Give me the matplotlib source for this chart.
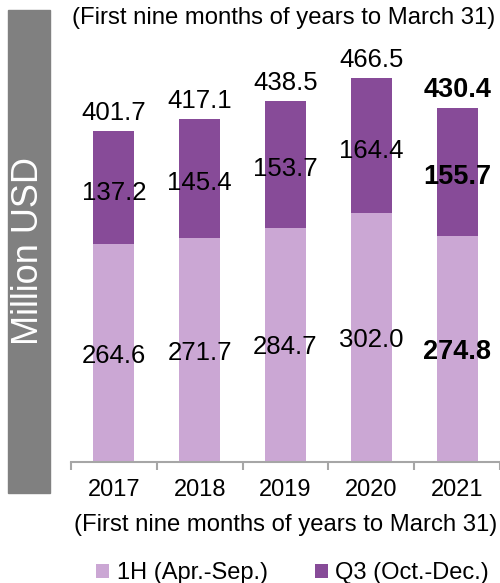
import numpy as np
import matplotlib
matplotlib.use('Agg')
import matplotlib.pyplot as plt
from matplotlib.patches import Rectangle

plt.rcParams['font.family'] = ['Liberation Sans', 'DejaVu Sans']

# =============================================
# Data (million USD)
# =============================================

years = ['2017', '2018', '2019', '2020', '2021']
first_half = [264.6, 271.7, 284.7, 302.0, 274.8]
third_q = [137.2, 145.4, 153.7, 164.4, 155.7]
totals = [401.7, 417.1, 438.5, 466.5, 430.4]

light = '#CBA7D4'
dark = '#874B98'

# =============================================
# Figure
# =============================================

fig = plt.figure(figsize=(5.0, 5.83), dpi=100)
ax = fig.add_axes([0.142, 1 - 462/583, 0.858, 452/583])

x = np.arange(len(years))
b1 = ax.bar(x, first_half, width=0.48, color=light, label='1H (Apr.-Sep.)')
b2 = ax.bar(x, third_q, width=0.48, bottom=first_half, color=dark,
            label='Q3 (Oct.-Dec.)')

ax.set_xlim(-0.5, 4.5)
ax.set_ylim(0, 549)

for i in range(len(years)):
    bold = (i == len(years) - 1)
    fw = 'bold' if bold else 'normal'
    fs = 19.5 if bold else 18.5
    ax.text(x[i], first_half[i] / 2, '%.1f' % first_half[i], ha='center',
            va='center_baseline', fontsize=fs, fontweight=fw)
    ax.text(x[i], first_half[i] + third_q[i] / 2 - 3, '%.1f' % third_q[i],
            ha='center', va='center_baseline', fontsize=fs, fontweight=fw)
    ax.text(x[i], totals[i] + 25, '%.1f' % totals[i], ha='center',
            va='center_baseline', fontsize=fs, fontweight=fw)

# axis styling: only a gray baseline with separator ticks
for s in ['top', 'right', 'left']:
    ax.spines[s].set_visible(False)
ax.spines['bottom'].set_color('#A6A6A6')
ax.spines['bottom'].set_linewidth(1.5)
ax.set_yticks([])
ax.set_xticks(np.arange(-0.5, 5.0, 1.0))
ax.set_xticklabels([])
ax.tick_params(axis='x', which='major', length=6, width=1.5, color='#A6A6A6')
ax.set_xticks(x, minor=True)
ax.set_xticklabels(years, minor=True, fontsize=17)
ax.tick_params(axis='x', which='minor', length=0, pad=12)

fig.text(0.567, 1 - 18/583, '(First nine months of years to March 31)',
         ha='center', va='center', fontsize=17.2)
fig.text(0.572, 1 - 525/583, '(First nine months of years to March 31)',
         ha='center', va='center', fontsize=17.2)

# gray side panel with the unit
fig.patches.append(Rectangle((8/500, 1 - 493/583), 42/500, 483/583,
                             transform=fig.transFigure, color='#808080',
                             zorder=0))
fig.text(29/500, 1 - 251/583, 'Million USD', rotation=90, ha='center',
         va='center', color='white', fontsize=26)

fig.legend(handles=[b1, b2], loc='center', bbox_to_anchor=(0.585, 1 - 573/583),
           ncol=2, frameon=False, fontsize=17, handlelength=0.55,
           handleheight=0.55, handletextpad=0.3, columnspacing=2.0,
           borderaxespad=0, borderpad=0)

fig.savefig('out.png', dpi=100)
